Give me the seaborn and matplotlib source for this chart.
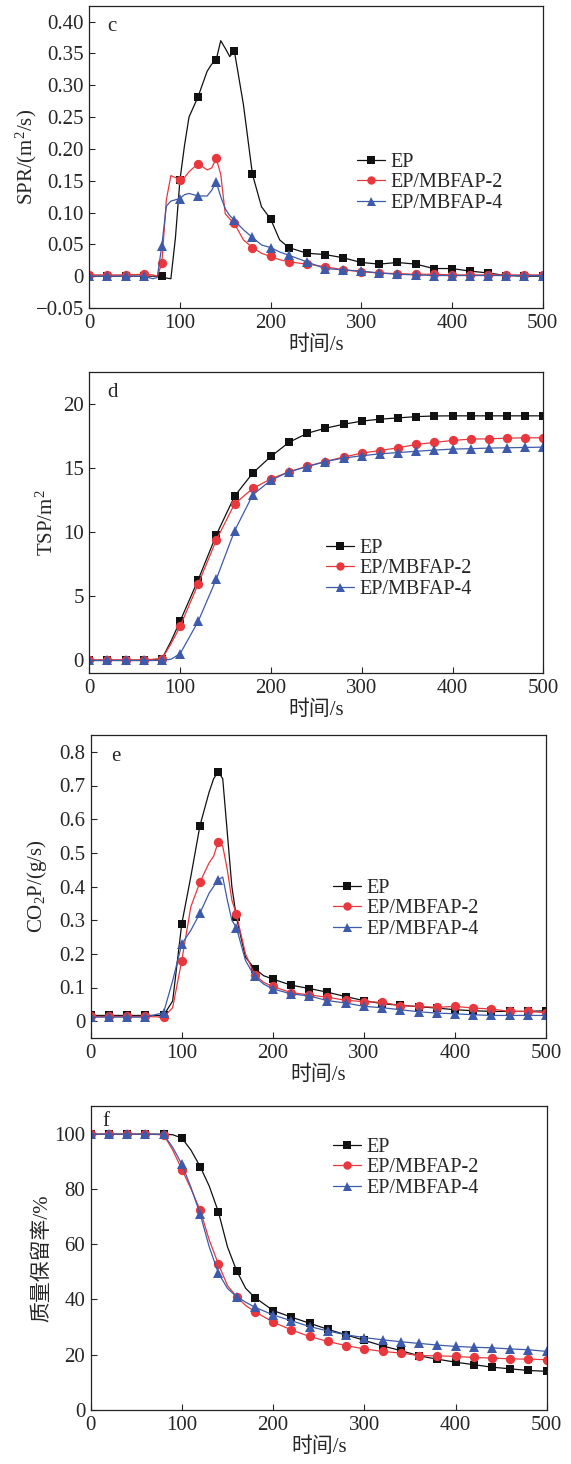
import numpy as np
import pandas as pd
import matplotlib
matplotlib.use("Agg")
import matplotlib.pyplot as plt
from matplotlib.ticker import FuncFormatter, MultipleLocator
import seaborn as sns

# ---------------- data ----------------
series_names = ["EP", "EP/MBFAP-2", "EP/MBFAP-4"]

# (c) SPR
t_c = [0, 20, 40, 60, 70, 75, 80, 85, 90, 95, 100, 105, 110, 120, 130, 135, 140, 145, 150, 155,
       160, 170, 180, 190, 200, 210, 220, 240, 260, 280, 300, 320, 340, 360, 380, 400, 420, 440,
       460, 480, 500]
spr_ep = [0, 0, 0, 0, 0, 0, 0.001, -0.003, -0.004, 0.06, 0.151, 0.205, 0.25, 0.282, 0.322, 0.333,
          0.340, 0.370, 0.358, 0.345, 0.354, 0.27, 0.160, 0.109, 0.090, 0.057, 0.045, 0.036, 0.034,
          0.029, 0.0215, 0.019, 0.0215, 0.019, 0.012, 0.012, 0.008, 0.005, 0.001, 0.0, 0.0]
spr_m2 = [0.002, 0.002, 0.002, 0.003, 0.002, 0.0, 0.020, 0.12, 0.158, 0.155, 0.151, 0.155, 0.164,
          0.177, 0.167, 0.170, 0.185, 0.16, 0.098, 0.09, 0.083, 0.057, 0.045, 0.036, 0.031, 0.026,
          0.0225, 0.019, 0.015, 0.010, 0.007, 0.005, 0.004, 0.003, 0.003, 0.002, 0.002, 0.002,
          0.002, 0.002, 0.002]
spr_m4 = [0, 0, 0, 0, -0.004, -0.002, 0.048, 0.11, 0.118, 0.12, 0.122, 0.128, 0.130, 0.126, 0.126,
          0.135, 0.148, 0.125, 0.106, 0.095, 0.088, 0.073, 0.061, 0.049, 0.045, 0.038, 0.033,
          0.0225, 0.012, 0.010, 0.008, 0.005, 0.003, 0.002, 0.001, 0.001, 0.001, 0.001, 0.001,
          0.001, 0.001]

# (d) TSP
t_d = [0, 20, 40, 60, 80, 90, 100, 120, 140, 160, 180, 200, 220, 240, 260, 280, 300, 320, 340,
       360, 380, 400, 420, 440, 460, 480, 500]
tsp_ep = [0, 0, 0, 0, 0.13, 1.5, 3.06, 6.3, 9.8, 12.8, 14.6, 15.9, 17.0, 17.7, 18.1, 18.4, 18.65,
          18.8, 18.9, 19.0, 19.05, 19.06, 19.06, 19.06, 19.06, 19.06, 19.06]
tsp_m2 = [0.05, 0.05, 0.05, 0.05, 0.13, 1.3, 2.65, 5.97, 9.4, 12.2, 13.4, 14.15, 14.7, 15.14, 15.5,
          15.85, 16.15, 16.36, 16.57, 16.83, 16.99, 17.14, 17.25, 17.27, 17.32, 17.35, 17.35]
tsp_m4 = [0, 0, 0, 0, 0, 0.1, 0.52, 3.06, 6.36, 10.1, 12.9, 14.05, 14.7, 15.1, 15.5, 15.77, 15.95,
          16.1, 16.2, 16.3, 16.39, 16.47, 16.5, 16.55, 16.57, 16.6, 16.62]

# (e) CO2P
t_e = [0, 20, 40, 60, 80, 90, 100, 110, 120, 130, 135, 140, 145, 150, 155, 160, 170, 180, 190, 200,
       220, 240, 260, 280, 300, 320, 340, 360, 380, 400, 420, 440, 460, 480, 500]
co2_ep = [0.017, 0.017, 0.017, 0.017, 0.017, 0.06, 0.289, 0.43, 0.581, 0.68, 0.72, 0.741, 0.72,
          0.56, 0.40, 0.308, 0.19, 0.156, 0.135, 0.125, 0.107, 0.097, 0.086, 0.073, 0.061, 0.052,
          0.047, 0.043, 0.039, 0.034, 0.031, 0.029, 0.029, 0.029, 0.031]
co2_m2 = [0.014, 0.014, 0.014, 0.014, 0.012, 0.04, 0.18, 0.34, 0.413, 0.47, 0.49, 0.532, 0.52,
          0.45, 0.36, 0.317, 0.20, 0.138, 0.115, 0.103, 0.085, 0.078, 0.071, 0.062, 0.058, 0.056,
          0.046, 0.044, 0.041, 0.044, 0.039, 0.036, 0.029, 0.029, 0.025]
co2_m4 = [0.012, 0.012, 0.012, 0.012, 0.025, 0.12, 0.229, 0.27, 0.321, 0.38, 0.40, 0.42, 0.428,
          0.36, 0.30, 0.278, 0.18, 0.133, 0.11, 0.096, 0.081, 0.075, 0.061, 0.054, 0.044, 0.04,
          0.034, 0.028, 0.024, 0.022, 0.019, 0.017, 0.017, 0.017, 0.017]

# (f) mass retention
t_f = [0, 20, 40, 60, 80, 90, 100, 110, 120, 130, 140, 150, 160, 170, 180, 200, 220, 240, 260, 280,
       300, 320, 340, 360, 380, 400, 420, 440, 460, 480, 500]
mr_ep = [99.8, 99.8, 99.8, 99.8, 99.8, 99.6, 98.4, 94.0, 88.1, 81.0, 71.7, 59.0, 50.4, 44.0, 40.7,
         36.0, 33.6, 31.4, 29.2, 27.2, 25.2, 23.2, 21.5, 19.6, 18.4, 17.3, 16.4, 15.5, 14.9, 14.3,
         14.0]
mr_m2 = [99.8, 99.8, 99.8, 99.8, 99.6, 94.0, 87.0, 80.0, 72.3, 61.5, 52.8, 45.0, 41.0, 37.8, 35.6,
         31.8, 29.0, 26.6, 24.8, 23.3, 22.1, 21.2, 20.6, 19.7, 19.6, 19.4, 19.0, 18.8, 18.5, 18.4,
         18.2]
mr_m4 = [99.8, 99.8, 99.8, 99.8, 99.7, 95.0, 88.9, 80.5, 70.9, 59.0, 49.5, 44.0, 41.0, 39.0, 37.2,
         34.4, 32.3, 30.2, 28.6, 27.2, 26.2, 25.4, 24.7, 24.1, 23.5, 23.0, 22.7, 22.5, 22.1, 21.8,
         21.2]

x_label = "时间/s"
y_labels = ["SPR/(m$^\\mathrm{2}$/s)", "TSP/m$^\\mathrm{2}$", "CO$_\\mathrm{2}$P/(g/s)", "质量保留率/%"]
panel_tags = ["c", "d", "e", "f"]

# ---------------- style ----------------
sns.set_style("ticks")
plt.rcParams["font.family"] = ["Liberation Serif", "Noto Sans CJK SC"]
plt.rcParams["mathtext.fontset"] = "custom"
plt.rcParams["mathtext.rm"] = "Liberation Serif"
plt.rcParams["mathtext.it"] = "Liberation Serif:italic"
plt.rcParams["axes.unicode_minus"] = True

colors = ["#111111", "#E8383D", "#3E5AAA"]
markers = ["s", "o", "^"]
msizes = [5.8, 6.7, 7.2]

W, H = 571, 1464
fig = plt.figure(figsize=(W / 100, H / 100), dpi=100)

def px_axes(left, top, right, bottom):
    return fig.add_axes([left / W, 1 - bottom / H, (right - left) / W, (bottom - top) / H])

panels = [
    dict(box=(89.3, 5.7, 542.5, 308), t=t_c, ys=[spr_ep, spr_m2, spr_m4], ylim=(-0.05, 0.425),
         ystep=0.05, fmt=lambda v: "0" if abs(v) < 1e-9 else f"{v:.2f}".replace("-", "\u2212"),
         ymin_tick=-0.05, ymax_tick=0.40, leg=(357, 153), tag=(0.04, 0.93), ylab_x=-0.11),
    dict(box=(89.3, 371.7, 543.3, 673.3), t=t_d, ys=[tsp_ep, tsp_m2, tsp_m4], ylim=(-1, 22.5),
         ystep=5, fmt=lambda v: f"{v:.0f}", ymin_tick=0, ymax_tick=20, leg=(326, 539),
         tag=(0.04, 0.93), ylab_x=-0.07),
    dict(box=(90.7, 735, 546, 1038), t=t_e, ys=[co2_ep, co2_m2, co2_m4], ylim=(-0.05, 0.85),
         ystep=0.1, fmt=lambda v: "0" if abs(v) < 1e-9 else f"{v:.1f}", ymin_tick=0,
         ymax_tick=0.8, leg=(333, 879), tag=(0.045, 0.93), ylab_x=-0.092),
    dict(box=(90.7, 1106, 546.7, 1410), t=t_f, ys=[mr_ep, mr_m2, mr_m4], ylim=(0, 110),
         ystep=20, fmt=lambda v: f"{v:.0f}", ymin_tick=0, ymax_tick=100, leg=(333, 1138),
         tag=(0.025, 0.95), ylab_x=-0.085),
]

for p, ylab, tag in zip(panels, y_labels, panel_tags):
    ax = px_axes(*p["box"])
    t = np.array(p["t"])
    mevery = [i for i, v in enumerate(t) if v % 20 == 0]
    for name, y, c, m, ms in zip(series_names, p["ys"], colors, markers, msizes):
        df = pd.DataFrame({"t": t, "v": y})
        sns.lineplot(data=df, x="t", y="v", ax=ax, color=c, label=name, linewidth=0.9,
                     marker=m, markersize=ms, markevery=mevery, markeredgewidth=0,
                     markeredgecolor=c, markerfacecolor=c, errorbar=None, sort=False)
    ax.set_xlim(0, 500)
    ax.set_ylim(*p["ylim"])
    ax.xaxis.set_major_locator(MultipleLocator(100))
    yt = np.arange(p["ymin_tick"], p["ymax_tick"] + p["ystep"] / 2, p["ystep"])
    ax.set_yticks(yt)
    ax.yaxis.set_major_formatter(FuncFormatter(lambda v, pos, f=p["fmt"]: f(v)))
    ax.tick_params(direction="in", length=4, width=0.8, labelsize=15, top=False, right=False,
                   pad=4)
    for s in ax.spines.values():
        s.set_linewidth(0.9)
        s.set_color("#222222")
    ax.set_xlabel(x_label, fontsize=15, labelpad=2)
    ax.set_ylabel(ylab, fontsize=15)
    ax.yaxis.set_label_coords(p["ylab_x"], 0.5)
    ax.text(p["tag"][0], p["tag"][1], tag, transform=ax.transAxes, fontsize=15,
            ha="left", va="center")
    lx, ly = p["leg"]
    ax.legend(loc="upper left", bbox_to_anchor=(lx / W, 1 - ly / H), bbox_transform=fig.transFigure,
              frameon=False, fontsize=14.5, borderpad=0, borderaxespad=0, labelspacing=0.06,
              handlelength=1.4, handletextpad=0.25, markerscale=0.9)

fig.savefig("out.png", dpi=100)
